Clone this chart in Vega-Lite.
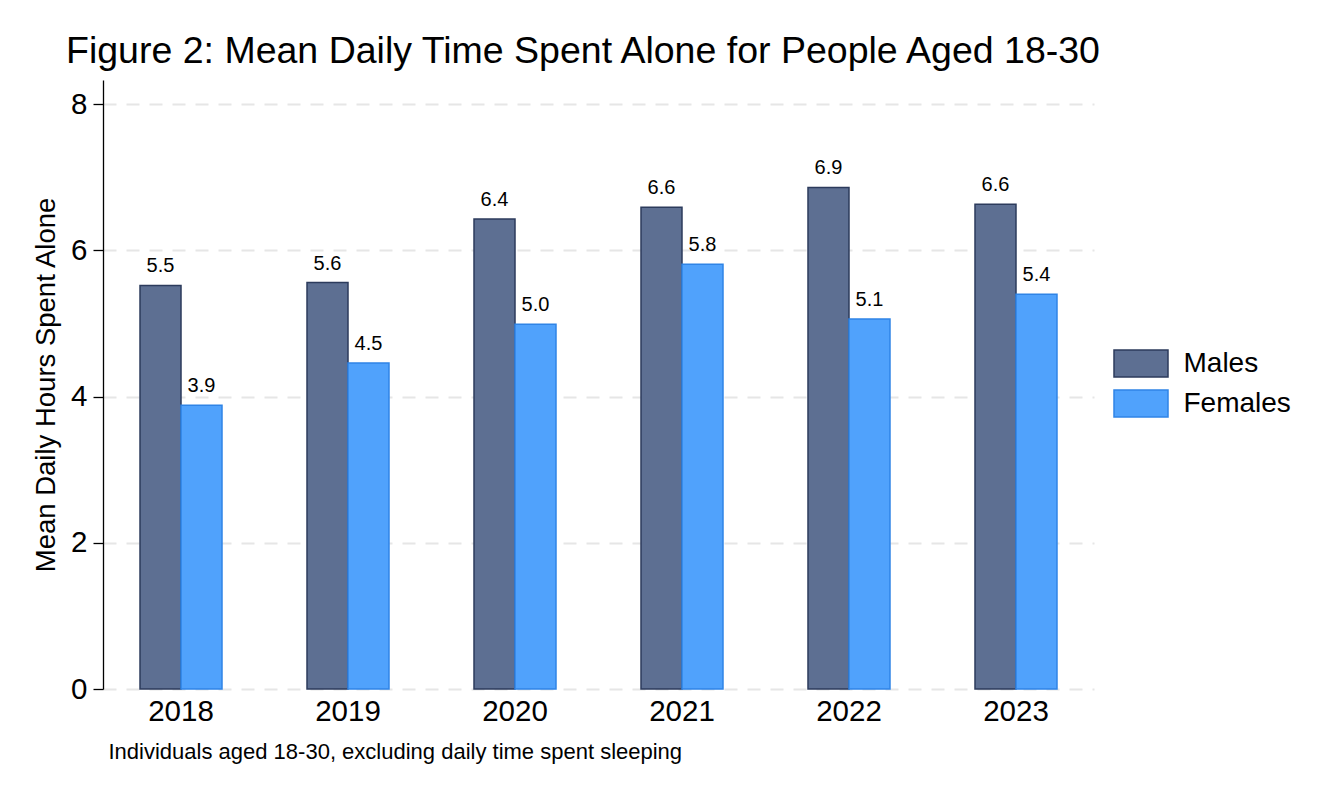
{
  "$schema": "https://vega.github.io/schema/vega-lite/v6.json",
  "autosize": {"type": "none"},
  "padding": {"left": 103, "top": 80, "right": 232, "bottom": 107},
  "width": 991,
  "height": 609,
  "background": "white",
  "title": {
    "text": "Figure 2: Mean Daily Time Spent Alone for People Aged 18-30",
    "anchor": "start",
    "frame": "group",
    "dx": -37,
    "dy": 35,
    "baseline": "alphabetic",
    "offset": 15,
    "font": "Liberation Sans",
    "fontSize": 37.5,
    "fontWeight": "normal",
    "color": "black"
  },
  "config": {
    "view": {"stroke": null},
    "font": "Liberation Sans"
  },
  "data": {
    "values": [
      {"Year": "2018", "Sex": "Males", "Hours": 5.52},
      {"Year": "2018", "Sex": "Females", "Hours": 3.88},
      {"Year": "2019", "Sex": "Males", "Hours": 5.56},
      {"Year": "2019", "Sex": "Females", "Hours": 4.46},
      {"Year": "2020", "Sex": "Males", "Hours": 6.43},
      {"Year": "2020", "Sex": "Females", "Hours": 4.99},
      {"Year": "2021", "Sex": "Males", "Hours": 6.59},
      {"Year": "2021", "Sex": "Females", "Hours": 5.81},
      {"Year": "2022", "Sex": "Males", "Hours": 6.86},
      {"Year": "2022", "Sex": "Females", "Hours": 5.06},
      {"Year": "2023", "Sex": "Males", "Hours": 6.63},
      {"Year": "2023", "Sex": "Females", "Hours": 5.40}
    ]
  },
  "encoding": {
    "x": {
      "field": "Year",
      "type": "nominal",
      "scale": {"paddingInner": 0.509, "paddingOuter": 0.2216},
      "axis": {
        "title": "Individuals aged 18-30, excluding daily time spent sleeping",
        "titleFont": "Liberation Sans",
        "titleFontSize": 22,
        "titleFontWeight": "normal",
        "titleColor": "black",
        "titleAnchor": "start",
        "titleAlign": "left",
        "titleBaseline": "alphabetic",
        "titleX": 5,
        "titleY": 69,
        "labelAngle": 0,
        "labelFont": "Liberation Sans",
        "labelFontSize": 29.5,
        "labelColor": "black",
        "labelPadding": 8,
        "domain": false,
        "ticks": false,
        "grid": false
      }
    },
    "xOffset": {
      "field": "Sex",
      "type": "nominal",
      "sort": ["Males", "Females"],
      "scale": {"paddingInner": 0, "paddingOuter": 0}
    },
    "y": {
      "field": "Hours",
      "type": "quantitative",
      "scale": {"domain": [0, 8.33], "nice": false, "zero": true},
      "axis": {
        "title": "Mean Daily Hours Spent Alone",
        "titleFont": "Liberation Sans",
        "titleFontSize": 27.5,
        "titleFontWeight": "normal",
        "titleColor": "black",
        "titlePadding": 10,
        "values": [0, 2, 4, 6, 8],
        "labelFont": "Liberation Sans",
        "labelFontSize": 29.5,
        "labelColor": "black",
        "labelPadding": 6,
        "tickSize": 10,
        "tickColor": "black",
        "tickWidth": 1.3,
        "domainColor": "black",
        "domainWidth": 1.3,
        "grid": true,
        "gridColor": "#e6e6e6",
        "gridWidth": 2,
        "gridDash": [13, 10]
      }
    }
  },
  "layer": [
    {
      "mark": {"type": "bar", "strokeWidth": 1.5},
      "encoding": {
        "fill": {
          "field": "Sex",
          "type": "nominal",
          "sort": ["Males", "Females"],
          "scale": {"domain": ["Males", "Females"], "range": ["#5d6f92", "#50a2fc"]},
          "legend": {
            "title": null,
            "orient": "none",
            "legendX": 1023.5,
            "legendY": 269,
            "symbolType": "M-2,-1H2V1H-2Z",
            "symbolSize": 729,
            "symbolStrokeWidth": 1.5,
            "symbolOpacity": 1,
            "labelFont": "Liberation Sans",
            "labelFontSize": 28,
            "labelColor": "black",
            "labelOffset": 28,
            "rowPadding": 7,
            "padding": 0
          }
        },
        "stroke": {
          "field": "Sex",
          "type": "nominal",
          "sort": ["Males", "Females"],
          "scale": {"domain": ["Males", "Females"], "range": ["#2c3b5c", "#2f84e6"]},
          "legend": {
            "title": null,
            "orient": "none",
            "legendX": 1023.5,
            "legendY": 269,
            "symbolType": "M-2,-1H2V1H-2Z",
            "symbolSize": 729,
            "symbolStrokeWidth": 1.5,
            "symbolOpacity": 1,
            "labelFont": "Liberation Sans",
            "labelFontSize": 28,
            "labelColor": "black",
            "labelOffset": 28,
            "rowPadding": 7,
            "padding": 0
          }
        }
      }
    },
    {
      "mark": {
        "type": "text",
        "baseline": "alphabetic",
        "dy": -13,
        "font": "Liberation Sans",
        "fontSize": 20,
        "color": "black"
      },
      "encoding": {
        "text": {"field": "Hours", "type": "quantitative", "format": ".1f"}
      }
    }
  ]
}
